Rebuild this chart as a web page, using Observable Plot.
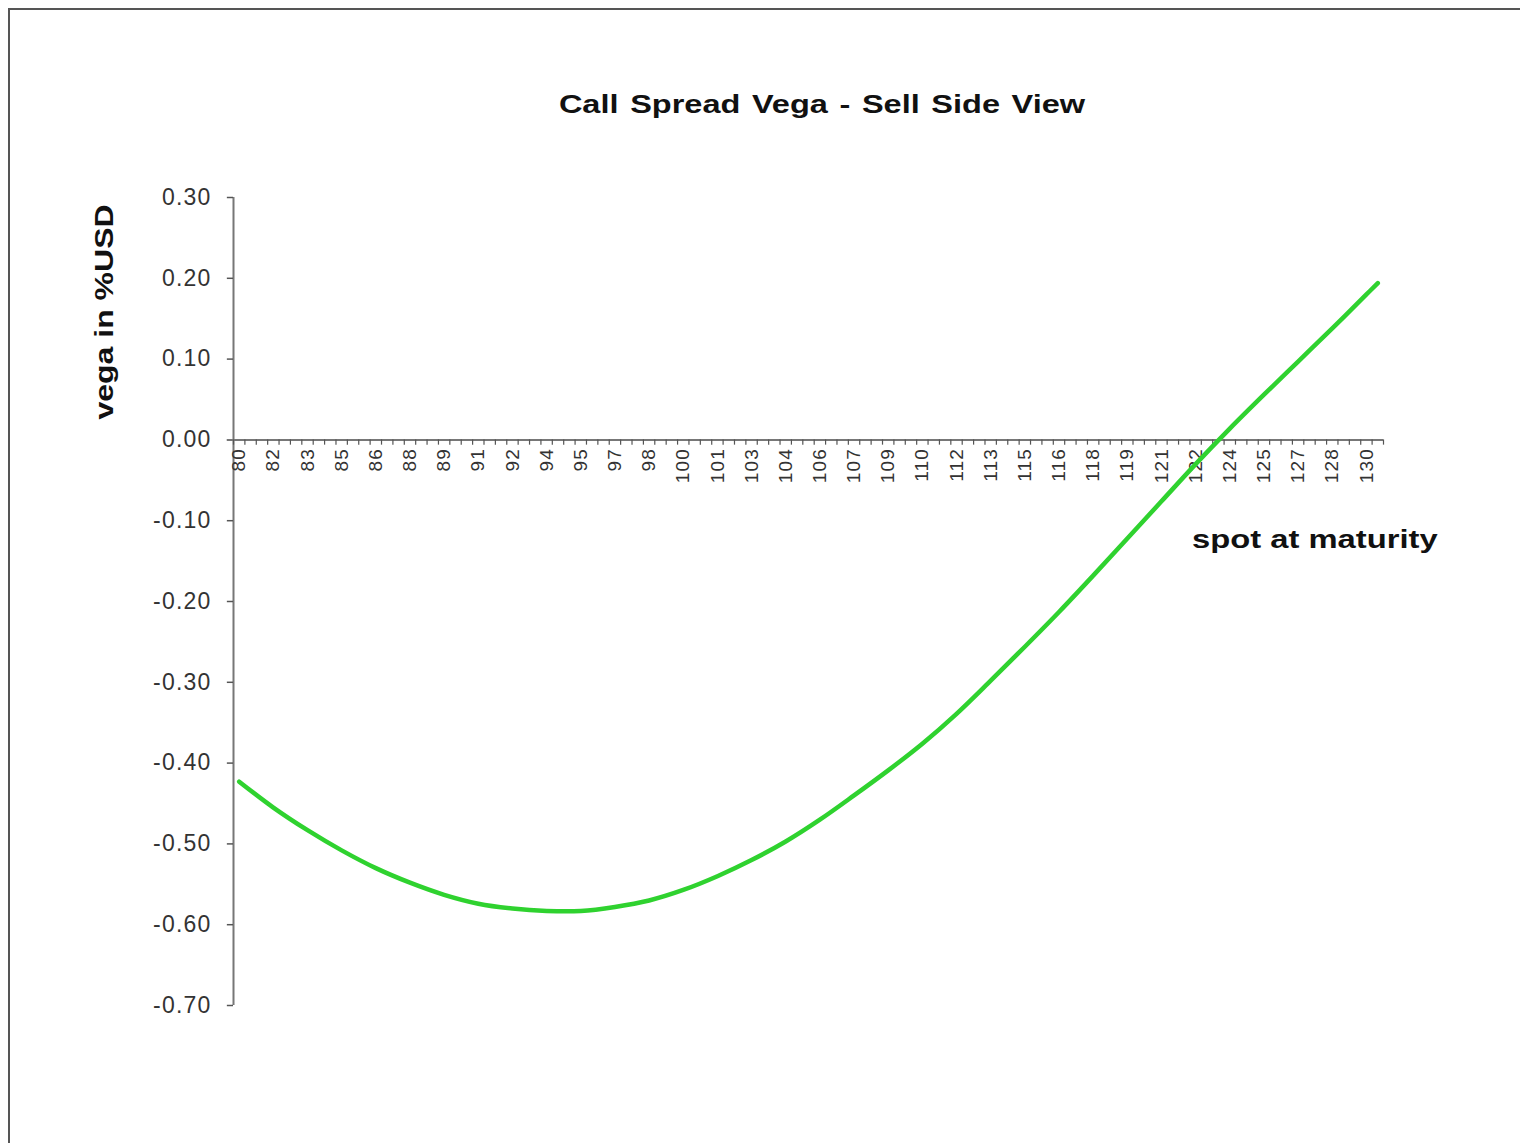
<!DOCTYPE html>
<html>
<head>
<meta charset="utf-8">
<script src="https://cdn.jsdelivr.net/npm/d3@7"></script>
<script src="https://cdn.jsdelivr.net/npm/@observablehq/plot@0.6"></script>
<style>
  html, body { margin: 0; padding: 0; background: #fff; }
  #wrap { position: relative; width: 1520px; height: 1143px; overflow: hidden; background: #fff;
          font-family: Arial, "Liberation Sans", sans-serif; }
  #plot { position: absolute; left: 0; top: 0; }
  #border { position: absolute; left: 8px; top: 8px; width: 1600px; height: 1300px;
            border-left: 2px solid #555; border-top: 2px solid #555; }
  .lbl { position: absolute; font-weight: bold; font-size: 25px; line-height: 25px; color: #111;
         white-space: nowrap; }
  #title { left: 822px; top: 92px; transform: translateX(-50%) scaleX(1.3); word-spacing: 2px; }
  #ylabel { left: 104px; top: 312px; transform: translate(-50%, -50%) rotate(-90deg) scaleX(1.28); }
  #xlabel { left: 1192px; top: 527px; transform-origin: 0 0; transform: scaleX(1.31); }
  #plot svg text { letter-spacing: 1.2px; }
</style>
</head>
<body>
<div id="wrap">
  <div id="plot"></div>
  <div id="border"></div>
  <div class="lbl" id="title">Call Spread Vega - Sell Side View</div>
  <div class="lbl" id="ylabel">vega in %USD</div>
  <div class="lbl" id="xlabel">spot at maturity</div>
</div>
<script>
// ---- data ----
const spot = [80, 81.5, 83, 84.5, 86, 87.5, 89, 90.5, 92, 93.5, 95, 96.5, 98, 99.5, 101, 102.5,
              104, 105.5, 107, 108.5, 110, 111.5, 113, 114.5, 116, 117.5, 119, 120.5, 122, 123.5,
              125, 126.5, 128, 129.5, 130];
const vega = [-0.423, -0.455, -0.483, -0.508, -0.530, -0.548, -0.563, -0.574, -0.580, -0.583,
              -0.583, -0.578, -0.570, -0.557, -0.540, -0.520, -0.497, -0.470, -0.440, -0.409,
              -0.376, -0.339, -0.298, -0.256, -0.213, -0.168, -0.122, -0.076, -0.030, 0.014,
              0.056, 0.097, 0.138, 0.180, 0.194];
const xTickLabels = ["80","82","83","85","86","88","89","91","92","94","95","97","98","100","101",
                     "103","104","106","107","109","110","112","113","115","116","118","119","121",
                     "122","124","125","127","128","130"];
const yTicks = [0.3, 0.2, 0.1, 0, -0.1, -0.2, -0.3, -0.4, -0.5, -0.6, -0.7];
const firstCategory = 80;
const categoryStep = 0.5;
const categoryCount = 101;
const labelEvery = 3;

// ---- derived ----
const data = spot.map((s, i) => ({spot: s, vega: vega[i]}));
const xMin = firstCategory - categoryStep / 2;
const xMax = firstCategory + (categoryCount - 0.5) * categoryStep;
const minorTicks = d3.range(categoryCount + 1).map(i => xMin + i * categoryStep);
const labelData = xTickLabels.map((t, i) => ({x: firstCategory + i * labelEvery * categoryStep, t}));

const chart = Plot.plot({
  width: 1520,
  height: 1143,
  marginLeft: 233,
  marginRight: 137,
  marginTop: 197,
  marginBottom: 138,
  style: {background: "transparent", fontFamily: "Arial, 'Liberation Sans', sans-serif"},
  x: {domain: [xMin, xMax], axis: null},
  y: {domain: [-0.7, 0.3], axis: null},
  marks: [
    Plot.ruleX([xMin], {y1: -0.7, y2: 0.3, stroke: "#777", strokeWidth: 2}),
    Plot.ruleY(yTicks, {x1: xMin - 0.27, x2: xMin, stroke: "#555", strokeWidth: 1.5}),
    Plot.ruleY([0], {x1: xMin - 0.27, x2: xMax, stroke: "#777", strokeWidth: 2}),
    Plot.ruleX(minorTicks, {x: d => d, y1: 0, y2: -0.0065, stroke: "#555", strokeWidth: 1.2}),
    Plot.text(yTicks, {x: xMin, y: d => d, text: d => d.toFixed(2), dx: -22, textAnchor: "end",
                       lineAnchor: "middle", fontSize: 23, fill: "#333"}),
    Plot.text(labelData, {x: "x", y: 0, text: "t", rotate: -90, textAnchor: "end",
                          lineAnchor: "middle", dy: 8, fontSize: 19, fill: "#333"}),
    Plot.line(data, {x: "spot", y: "vega", stroke: "#2fd22f", strokeWidth: 4.5, curve: "catmull-rom"})
  ]
});
document.getElementById("plot").appendChild(chart);
</script>
</body>
</html>
